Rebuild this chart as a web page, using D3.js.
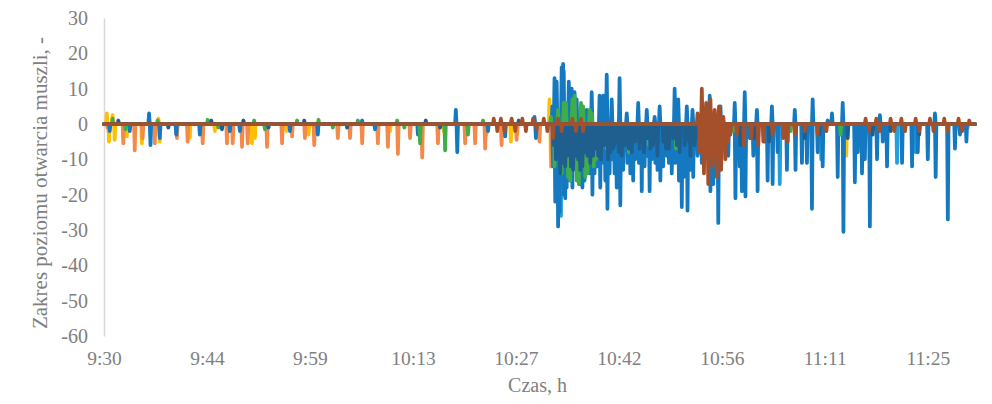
<!DOCTYPE html>
<html>
<head>
<meta charset="utf-8">
<script src="https://cdn.jsdelivr.net/npm/d3@7"></script>
<style>
  body { margin: 0; background: #fff; }
  svg text { font-family: "Liberation Serif", "Times New Roman", serif; fill: #7f7f7f; }
</style>
</head>
<body>
<div id="chart"></div>
<script>
// minutes after 9:30 for each tick label
const tickMinutes = [0, 14.4, 28.8, 43.2, 57.6, 72, 86.4, 100.8, 115.2];
const tickLabels = ["9:30", "9:44", "9:59", "10:13", "10:27", "10:42", "10:56", "11:11", "11:25"];
const yTicks = [30, 20, 10, 0, -10, -20, -30, -40, -50, -60];
const endMinute = 121.8;

// each series: spikes as [minute, value], signal rests at 0 between them
const yellowSpikes = [[0.4,3],[0.7,-5],[1.2,2.5],[1.5,-4.5],[3.2,-3.5],[5.3,-5.5],[7.6,1.5],[7.8,-5],[12.0,-4],[15.5,-2],
  [20.7,-5.5],[21.1,-4],[25.5,-2],[28.6,-3],[40.0,-2],[47.5,-2],[53.5,-3],[56.9,-5],[57.8,-3],[62.3,7],[62.5,-12],
  [63.7,-8],[70,-4],[78,-3],[88,-2],[103.8,-9],[110,-2],[119.5,1],[120.8,-1]];

const orangeSpikes = [[0.5,-1],[2.7,-5.5],[4.3,-7.5],[5.4,-4],[7.1,-5.5],[10.2,-4],[11.7,-5],[13.8,-5.5],[17.2,-5.5],
  [18.0,-5.5],[19.3,-6.5],[20.1,-5.5],[22.8,-6.5],[24.9,-5.5],[26.3,-3.5],[28.1,-4],[29.4,-6],[32.7,-4],[34.4,-4],
  [36.1,-5.5],[38.3,-5.5],[39.7,-6.5],[41.1,-8.5],[42.8,-4],[44.5,-9.5],[46.7,-5.5],[50.5,-5.5],[51.9,-5.5],[53.3,-7],
  [55.6,-6],[57.7,-4.5],[60.9,-5],[62.6,-12],[64.6,-15],[66,-6],[86,-3],[90,-2],[95,-2],[101,-2],[108,-1.5]];

const greenSpikes = [[1.2,1.5],[3.0,-1.5],[7.5,1],[14.5,1.2],[16,-1],[21,1],[22.5,-1.5],[27,1],[30,1.2],[32,-1],[35.5,1],
  [41,1],[42,-1],[44.2,-5.5],[47.7,-7.5],[50.9,-3],[53,1],[57,1],[62.5,2],[63.0,-12],[63.5,4],[64.0,-14],[64.3,6],
  [64.6,6],[64.9,-15],[65.2,-16],[65.5,7],[65.8,8],[66.1,-16],[66.4,-17],[66.7,6],[67.0,5],[67.3,-15],[67.6,-14],
  [67.9,4],[68.2,3],[68.5,-12],[68.8,-10],[70.3,-7],[72.0,-5],[73.4,-8],[76.2,-6],
  [78.3,-4],[80.0,-7],[84.0,-3],[88,-2],[96,-2],[103,-3],[112,-2],[118,-2]];

const lightBlueSpikes = [[63.9,-26],[64.3,15],[76.0,-9],[94.5,-17],[100.3,-10],[110.9,-11],[113.5,-8]];

const blueSpikes = [[0.8,-2],[3.6,-2],[6.3,3],[6.5,-6],[7.8,-4],[10.1,-3],[13.4,-3],[17.6,-2],[19.0,-2],[26.0,-2],
  [29.9,-3],[36.1,1],[37.9,-1.5],[43.9,-3],[49.2,4],[49.4,-8],[53.7,-2],[56.1,-3.5],[60.2,2],[60.4,-4],
  [62.7,5],[62.8,-12],[63.0,13],[63.1,-22],[63.3,12],[63.5,-29],[63.7,-25],[64.0,16],[64.2,17],[64.3,-20],[64.5,-21],
  [64.7,-18],[65.0,12],[65.2,-16],[65.4,10],[65.5,-18],[65.8,9],[66.1,7],[66.2,-15],[66.5,-17],
  [66.8,5],[66.9,-18],[67.2,-16],[67.5,4],[67.6,-12],[67.9,-14],[68.2,9],[68.3,-20],[68.6,-14],[69.0,-12],[69.3,8],
  [69.4,-18],[69.8,8],[69.9,-11],[70.1,-16],
  [70.3,14],[70.4,-24],[70.7,-14],[71.0,7],[71.1,-10],[71.4,-14],[71.7,-18],[71.9,-12],[72.1,13],[72.2,-23],[72.6,-13],
  [73.1,3],[73.2,-11],[73.6,-14],[74.0,-16],[74.3,-10],
  [74.7,6],[74.8,-11],[75.2,-19],[75.6,-12],[75.9,4],[76.0,-9],[76.3,-19],[76.6,-10],[77.0,2],[77.1,-11],[77.4,-13],
  [77.7,5],[77.8,-16],[78.2,-12],[78.7,-9],[79.0,-11],
  [79.4,-14],[79.8,10],[79.9,-11],[80.3,7],[80.4,-16],[80.8,-23.5],[81.1,-15],[81.5,5],[81.6,-24.5],[82.0,-13],[82.3,4],
  [82.4,-15],[83.0,-9],[83.6,-11],[84.2,-7],
  [84.7,8],[84.8,-19],[85.2,-17],[85.9,-28],[86.2,5],[86.3,-12],[86.6,-7],[87.3,-9],[88.2,6],[88.3,-21],[88.9,-12],
  [89.2,-19],[89.6,9],[89.7,-20.5],[90.3,-4],[90.8,-9],[91.3,4],[91.4,-19],[92.4,-5],[92.8,-16],[93.4,5],[93.5,-17],
  [94.2,-8],[95.5,-13],[96.6,4],
  [96.7,-13],[97.6,-11],[98.3,-11],[99.0,-24],[99.1,7],[99.8,-8],[100.5,-12],[101.2,1],[101.8,3],[102.6,-15],
  [103.3,6],[103.4,-30.5],[103.9,-3],[105.0,-16.5],[105.4,-8],[106.0,-14],[106.4,-10],[107.1,-29],[108.1,-10],
  [108.5,2.5],[108.9,-5],[109.5,-12],[111.6,-11],[113.0,-12],[113.8,-8],[115.2,-10],[116.2,3],[116.3,-15],
  [118.0,-27],[119.0,-7],[119.7,-3],[120.6,-5]];

const darkBlueSpikes = [[2,1],[9,-1],[15,1],[16.5,-1.5],[19.5,1],[23,-1],[28,1],[34,-1],[45,1],[47,-1],[58,1],
  [62.9,-6],[63.2,-10],[63.5,-8],[63.8,-14],[64.1,-11],[64.5,-12],[64.8,-9],[65.0,-8],[65.3,-12],[65.6,-13],
  [65.9,-9],[66.3,-10],[66.6,-13],[66.9,-12],[67.2,-8],[67.6,-9],[68.0,-11],[68.4,-9],[68.7,-7],[69.1,-9],
  [69.5,-10],[70.0,-6],[70.5,-10],[70.8,-8],[71.2,-7],[71.4,-6],[72.0,-8],[72.4,-9],[72.9,-6],[73.4,-7],[73.8,-8],
  [74.3,-5],[74.9,-7],[75.5,-8],[76.0,-4],[76.4,-7],[76.8,-6],[77.4,-9],
  [78.2,-5],[78.6,-7],[79.0,-7],[79.6,-4],[80.1,-6],[80.5,-8],[81.2,-6],[81.8,-5],[82.0,-9],[82.6,-6],[83.0,-4],
  [84.0,-6],[85.0,-8],[86.0,-5],[87.5,-3],
  [89.0,-6],[91.0,-4],[93.0,-5],[95.0,-3],[98.0,-4],[100.0,-3],[104.0,-4],[107.5,-3],[110.0,-2],[114,-3]];

const brownSpikes = [[54.5,1.5],[55,-2],[55.5,1.5],[56,-2],[57,1.5],[57.5,-2],[58.5,1.5],[59,-2],[60,1.5],[60.5,-1.5],
  [61.5,1.5],[62,-2],[62.8,-4],[63.5,1.5],[64,-2],[65.5,1.5],[66,-2],[66.7,1.5],[67,-2],
  [83.0,3],[83.3,-8],[83.6,10],[83.9,-14],[84.2,6],[84.5,-17],[84.8,7],[85.1,-12],[85.4,4],[85.7,-15],[86.0,5],
  [86.3,-13],[86.6,2],[86.9,-10],[87.2,-5],[87.6,-3],[88.5,-3],[89.5,-6],[90.5,-4],[91.5,-6],[92.2,-5],[93.5,-3],
  [95,-4],[95.6,-5],[96.6,-3],[98,-2],[99.8,-3],[101,-2],[106.5,1.5],[107,-2],[108,1.5],[108.5,-2],[110,1.5],
  [110.5,-2],[111.5,1.5],[112,-2],[113.5,1.5],[114,-2],[115.5,1.5],[116,-2],[117.5,1.5],[118,-2],[119.5,1.5],
  [120,-2],[121,1]];

// drawing order: later series sit on top
const series = [
  { name: "yellow", color: "#ffc000", spikes: yellowSpikes },
  { name: "orange", color: "#f4894a", spikes: orangeSpikes },
  { name: "lightblue", color: "#229fdc", spikes: lightBlueSpikes },
  { name: "blue", color: "#1479c0", spikes: blueSpikes },
  { name: "green", color: "#3fae49", spikes: greenSpikes },
  { name: "darkblue", color: "#1f5f8f", spikes: darkBlueSpikes },
  { name: "brown", color: "#a5502a", spikes: brownSpikes }
];

const W = 992, H = 404;
const margin = { top: 18, right: 17, bottom: 68, left: 104 };
const width = W - margin.left - margin.right;
const height = H - margin.top - margin.bottom;

const svg = d3.select("#chart").append("svg")
  .attr("width", W)
  .attr("height", H);

const g = svg.append("g").attr("transform", `translate(${margin.left},${margin.top})`);

const x = d3.scaleLinear().domain([0, endMinute]).range([0, width]);
const y = d3.scaleLinear().domain([-60, 30]).range([height, 0]);

// y axis (plain hyphen for negatives, like the original)
const yAxis = g.append("g")
  .call(d3.axisLeft(y).tickValues(yTicks).tickFormat(d => String(d)).tickSize(0).tickPadding(16));
yAxis.select(".domain").attr("stroke", "#d9d9d9").attr("stroke-width", 1.5);
yAxis.selectAll("text").style("font-size", "20px").attr("fill", "#7f7f7f")
  .attr("font-family", "Liberation Serif, serif");

// x axis labels at bottom
const xAxis = g.append("g")
  .attr("transform", `translate(0,${height})`)
  .call(d3.axisBottom(x).tickValues(tickMinutes).tickFormat((d, i) => tickLabels[i]).tickSize(0).tickPadding(15));
xAxis.select(".domain").remove();
xAxis.selectAll("text").style("font-size", "19.5px").attr("fill", "#7f7f7f")
  .attr("font-family", "Liberation Serif, serif");

// lines: rest at 0, go to each spike value and back
const line = d3.line().x(d => x(d[0])).y(d => y(d[1]));
const halfWidth = 0.1;
function toPoints(spikes) {
  const pts = [[0, 0]];
  spikes.forEach(s => {
    pts.push([s[0] - halfWidth, 0], s, [s[0] + halfWidth, 0]);
  });
  pts.push([endMinute, 0]);
  return pts;
}

series.forEach(s => {
  g.append("path")
    .datum(toPoints(s.spikes))
    .attr("fill", "none")
    .attr("stroke", s.color)
    .attr("stroke-width", 3.75)
    .attr("stroke-linejoin", "round")
    .attr("stroke-linecap", "round")
    .attr("d", line);
});

// axis titles
svg.append("text")
  .attr("x", margin.left + width / 2 - 2)
  .attr("y", 392)
  .attr("text-anchor", "middle")
  .style("font-size", "20px")
  .text("Czas, h");

svg.append("text")
  .attr("transform", `translate(47,${margin.top + height / 2 + 6}) rotate(-90)`)
  .attr("text-anchor", "middle")
  .style("font-size", "21px")
  .text("Zakres poziomu otwarcia muszli, -");
</script>
</body>
</html>
